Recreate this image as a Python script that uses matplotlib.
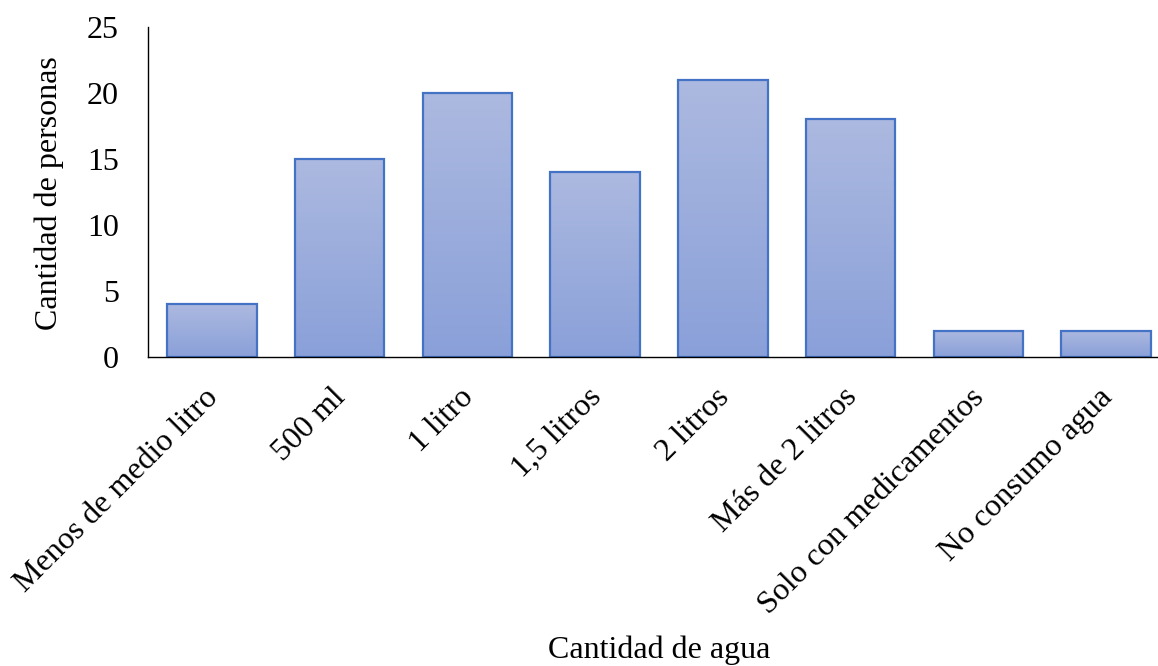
import numpy as np
import matplotlib
matplotlib.use("Agg")
import matplotlib.pyplot as plt
import matplotlib.transforms as mtransforms
from matplotlib.colors import LinearSegmentedColormap

categories = ["Menos de medio litro", "500 ml", "1 litro", "1,5 litros",
              "2 litros", "Más de 2 litros", "Solo con medicamentos", "No consumo agua"]
personas = [4, 15, 20, 14, 21, 18, 2, 2]
yticks = [0, 5, 10, 15, 20, 25]

plt.rcParams["font.family"] = ["Liberation Serif", "DejaVu Serif"]
FS = 23

fig = plt.figure(figsize=(11.58, 6.66), dpi=100)
# the plot area runs slightly past the right edge of the canvas
ax = fig.add_axes([148 / 1158, 1 - 357 / 666, 1022 / 1158, 330 / 666])

x = np.arange(len(categories))
bars = ax.bar(x, personas, width=0.70, facecolor="none",
              edgecolor="#4472c4", linewidth=1.6, zorder=3)

cmap = LinearSegmentedColormap.from_list("fill", ["#8aa0d9", "#acb9e0"])
grad = np.linspace(0, 1, 256).reshape(-1, 1)
for b in bars:
    x0, y0 = b.get_x(), b.get_y()
    w, h = b.get_width(), b.get_height()
    im = ax.imshow(grad, cmap=cmap, origin="lower", aspect="auto",
                   extent=[x0, x0 + w, y0, y0 + h], zorder=2)
    im.set_clip_path(b)

ax.set_xlim(-0.5, len(categories) - 0.5)
ax.set_ylim(0, 25)
ax.set_yticks(yticks)
ax.set_xticks(x)
ax.set_xticklabels(categories, rotation=45, ha="right", va="center",
                   rotation_mode="anchor")
ax.tick_params(axis="both", length=0, labelsize=FS, colors="black")
ax.tick_params(axis="y", pad=21)
ax.tick_params(axis="x", pad=26)

shift = mtransforms.ScaledTranslation(2 / 100, 0, fig.dpi_scale_trans)
for lbl in ax.get_xticklabels():
    lbl.set_transform(lbl.get_transform() + shift)

for s in ["top", "right"]:
    ax.spines[s].set_visible(False)
for s in ["left", "bottom"]:
    ax.spines[s].set_color("black")
    ax.spines[s].set_linewidth(1.0)
ax.spines["bottom"].set_zorder(4)

fig.text(49 / 1158, 1 - 193 / 666, "Cantidad de personas", fontsize=FS,
         rotation=90, ha="center", va="center")
fig.text(659 / 1158, 1 - 650 / 666, "Cantidad de agua", fontsize=FS,
         ha="center", va="center")

fig.savefig("out.png", dpi=100, facecolor="white")
